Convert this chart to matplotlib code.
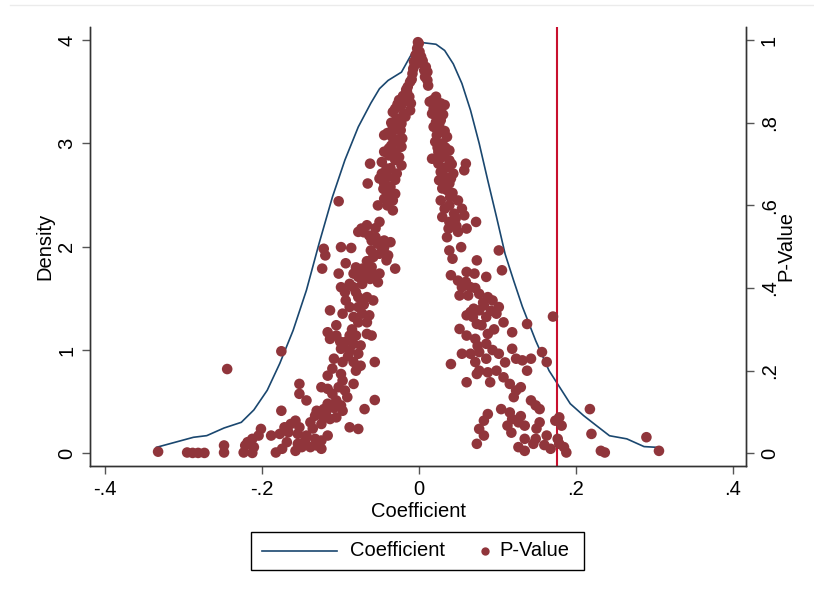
import matplotlib as mpl
import matplotlib.pyplot as plt
from matplotlib.lines import Line2D
from matplotlib.patches import Rectangle

mpl.rcParams['font.family'] = ['Liberation Sans', 'DejaVu Sans']
mpl.rcParams['font.size'] = 14.5

# kernel density of the coefficients
curve_x = [-0.334, -0.287, -0.270, -0.248, -0.226, -0.210, -0.193, -0.177, -0.160, -0.143,
           -0.127, -0.110, -0.094, -0.077, -0.061, -0.050, -0.039, -0.022, -0.011, 0.000,
           0.011, 0.022, 0.033, 0.044, 0.055, 0.066, 0.077, 0.088, 0.099, 0.110,
           0.121, 0.132, 0.149, 0.166, 0.177, 0.193, 0.210, 0.226, 0.243, 0.265,
           0.287, 0.303]
curve_y = [0.058, 0.155, 0.171, 0.245, 0.30, 0.42, 0.61, 0.87, 1.19, 1.58,
           2.03, 2.48, 2.84, 3.16, 3.39, 3.53, 3.61, 3.69, 3.84, 3.98,
           3.97, 3.96, 3.90, 3.77, 3.58, 3.32, 3.00, 2.64, 2.29, 1.93,
           1.67, 1.42, 1.09, 0.80, 0.67, 0.48, 0.365, 0.27, 0.17, 0.14,
           0.065, 0.058]

# coefficient / p-value pairs
coef = [
    # left branch near the peak
    -0.001, 0.000, -0.002, 0.001, -0.004, 0.003, -0.006, 0.004, -0.007, 0.007,
    0.011, -0.008, 0.011, -0.011, -0.014, 0.008, -0.015, -0.012, -0.010, -0.019,
    -0.025, -0.022, -0.030, -0.033, -0.019, -0.011, -0.025, -0.029, -0.022, -0.033,
    -0.023, -0.044, -0.034, -0.021, -0.030, -0.022, -0.038, -0.030, -0.038, -0.025,
    -0.022, -0.062, -0.041, -0.047, -0.039, -0.030, -0.044, -0.036, -0.041, -0.030,
    -0.044, -0.033, -0.065, -0.102, -0.028, -0.033,
    -0.005, -0.009, -0.016, -0.020, -0.027, -0.017, -0.035, -0.028, -0.040, -0.026,
    -0.035, -0.044, -0.030, -0.047, -0.036, -0.050, -0.045, -0.038, -0.052, -0.040,
    # right branch upper
    0.014, 0.022, 0.028, 0.033, 0.019, 0.017, 0.023, 0.022, 0.028, 0.019,
    0.028, 0.023, 0.036, 0.021, 0.030, 0.039, 0.025, 0.017, 0.032, 0.039,
    0.025, 0.036, 0.028, 0.044, 0.033, 0.026, 0.039, 0.030, 0.036, 0.028,
    0.050, 0.039, 0.033, 0.055, 0.058, 0.030, 0.047, 0.039, 0.073, 0.038,
    0.061, 0.050, 0.036, 0.054, 0.039, 0.043, 0.060, 0.058, 0.074, 0.102,
    0.106,
    0.005, 0.009, 0.012, 0.018, 0.025, 0.031, 0.026, 0.033, 0.024, 0.034,
    0.028, 0.042, 0.033, 0.030, 0.041, 0.034, 0.043, 0.040, 0.045, 0.048,
    # left branch middle
    -0.066, -0.073, -0.077, -0.050, -0.063, -0.055, -0.060, -0.044, -0.036, -0.052,
    -0.044, -0.061, -0.050, -0.039, -0.041, -0.030, -0.072, -0.066, -0.060, -0.055,
    -0.050, -0.062, -0.052, -0.072, -0.077, -0.083, -0.099, -0.094, -0.080, -0.077,
    -0.066, -0.058, -0.088, -0.077, -0.072, -0.063, -0.066, -0.077, -0.083, -0.113,
    -0.097, -0.116, -0.113, -0.105, -0.088, -0.080, -0.066, -0.060, -0.094, -0.083,
    -0.074, -0.099, -0.088, -0.077, -0.108, -0.097, -0.083, -0.074, -0.056, -0.080,
    -0.099, -0.116, -0.121, -0.119, -0.099, -0.086, -0.123, -0.102, -0.093, -0.083,
    -0.175, -0.244,
    -0.055, -0.070, -0.058, -0.045, -0.066, -0.080, -0.070, -0.088, -0.093, -0.070,
    -0.105, -0.085, -0.100, -0.090, -0.110,
    # left branch lower
    -0.152, -0.152, -0.143, -0.124, -0.116, -0.110, -0.105, -0.099, -0.097, -0.102,
    -0.094, -0.083, -0.091, -0.116, -0.121, -0.130, -0.132, -0.121, -0.113, -0.105,
    -0.097, -0.138, -0.124, -0.157, -0.163, -0.152, -0.171, -0.166, -0.154, -0.143,
    -0.132, -0.124, -0.116, -0.130, -0.124, -0.138, -0.149, -0.157, -0.154, -0.168,
    -0.174, -0.182, -0.188, -0.177, -0.201, -0.204, -0.212, -0.218, -0.210, -0.223,
    -0.212, -0.221, -0.175, -0.069, -0.056, -0.088, -0.077, -0.248, -0.248, -0.295,
    -0.288, -0.281, -0.273, -0.332,
    -0.135, -0.145, -0.118, -0.108,
    # right branch middle and lower
    0.041, 0.050, 0.061, 0.071, 0.086, 0.055, 0.066, 0.052, 0.063, 0.077,
    0.088, 0.094, 0.102, 0.083, 0.077, 0.086, 0.099, 0.108, 0.066, 0.061,
    0.069, 0.074, 0.088, 0.052, 0.061, 0.072, 0.086, 0.055, 0.066, 0.077,
    0.086, 0.072, 0.077, 0.088, 0.099, 0.108, 0.116, 0.124, 0.130, 0.121,
    0.102, 0.119, 0.124, 0.132, 0.143, 0.138, 0.157, 0.163, 0.119, 0.138,
    0.061, 0.091, 0.041, 0.074, 0.088, 0.083, 0.077, 0.074, 0.083, 0.105,
    0.116, 0.119, 0.113, 0.127, 0.135, 0.143, 0.149, 0.154, 0.154, 0.135,
    0.149, 0.146, 0.163, 0.127, 0.135, 0.168, 0.174, 0.179, 0.182, 0.177,
    0.179, 0.185, 0.188, 0.171, 0.218, 0.220, 0.232, 0.237, 0.290, 0.306,
    0.060, 0.072, 0.082, 0.092, 0.070, 0.080, 0.096, 0.075, 0.094, 0.110,
    0.118, 0.130, 0.150, 0.160,
]
pval = [
    0.995, 0.992, 0.980, 0.972, 0.964, 0.960, 0.948, 0.944, 0.931, 0.927,
    0.923, 0.919, 0.903, 0.899, 0.887, 0.911, 0.875, 0.863, 0.847, 0.851,
    0.855, 0.843, 0.834, 0.826, 0.822, 0.830, 0.810, 0.806, 0.798, 0.790,
    0.782, 0.770, 0.766, 0.762, 0.754, 0.742, 0.738, 0.729, 0.721, 0.717,
    0.697, 0.701, 0.689, 0.677, 0.669, 0.662, 0.653, 0.645, 0.633, 0.628,
    0.616, 0.588, 0.653, 0.610, 0.677, 0.612,
    0.940, 0.905, 0.880, 0.865, 0.845, 0.815, 0.800, 0.785, 0.775, 0.760,
    0.745, 0.730, 0.710, 0.705, 0.690, 0.665, 0.640, 0.620, 0.600, 0.600,
    0.851, 0.863, 0.847, 0.843, 0.834, 0.822, 0.814, 0.802, 0.806, 0.790,
    0.778, 0.770, 0.766, 0.754, 0.750, 0.733, 0.729, 0.713, 0.721, 0.709,
    0.701, 0.693, 0.681, 0.677, 0.669, 0.661, 0.653, 0.641, 0.637, 0.612,
    0.612, 0.600, 0.592, 0.592, 0.576, 0.572, 0.568, 0.560, 0.560, 0.544,
    0.544, 0.536, 0.523, 0.499, 0.491, 0.471, 0.701, 0.685, 0.467, 0.491,
    0.443,
    0.950, 0.935, 0.890, 0.855, 0.830, 0.820, 0.795, 0.780, 0.740, 0.740,
    0.715, 0.700, 0.690, 0.675, 0.665, 0.655, 0.630, 0.620, 0.580, 0.550,
    0.552, 0.544, 0.536, 0.560, 0.527, 0.523, 0.515, 0.515, 0.511, 0.507,
    0.499, 0.491, 0.483, 0.479, 0.467, 0.447, 0.447, 0.439, 0.451, 0.431,
    0.435, 0.422, 0.414, 0.410, 0.427, 0.402, 0.402, 0.390, 0.390, 0.378,
    0.378, 0.370, 0.354, 0.354, 0.338, 0.334, 0.317, 0.317, 0.330, 0.346,
    0.338, 0.293, 0.277, 0.285, 0.285, 0.285, 0.289, 0.285, 0.269, 0.265,
    0.261, 0.253, 0.249, 0.241, 0.229, 0.221, 0.221, 0.212, 0.221, 0.200,
    0.192, 0.188, 0.495, 0.479, 0.499, 0.497, 0.447, 0.435, 0.460, 0.435,
    0.247, 0.204,
    0.545, 0.535, 0.475, 0.490, 0.465, 0.450, 0.425, 0.410, 0.370, 0.360,
    0.310, 0.300, 0.270, 0.235, 0.205,
    0.168, 0.144, 0.128, 0.160, 0.156, 0.144, 0.128, 0.116, 0.176, 0.160,
    0.152, 0.168, 0.136, 0.120, 0.107, 0.103, 0.091, 0.087, 0.083, 0.087,
    0.103, 0.075, 0.071, 0.079, 0.071, 0.063, 0.063, 0.051, 0.047, 0.043,
    0.035, 0.031, 0.043, 0.019, 0.011, 0.015, 0.015, 0.006, 0.023, 0.027,
    0.011, 0.002, 0.043, 0.047, 0.059, 0.043, 0.035, 0.027, 0.015, 0.002,
    0.001, 0.019, 0.103, 0.107, 0.129, 0.063, 0.059, 0.019, 0.002, 0.002,
    0.001, 0.001, 0.001, 0.004,
    0.060, 0.030, 0.100, 0.110,
    0.431, 0.418, 0.439, 0.435, 0.427, 0.402, 0.402, 0.382, 0.382, 0.386,
    0.378, 0.370, 0.354, 0.358, 0.346, 0.330, 0.338, 0.317, 0.342, 0.334,
    0.330, 0.313, 0.289, 0.301, 0.285, 0.277, 0.265, 0.241, 0.241, 0.245,
    0.229, 0.221, 0.200, 0.196, 0.200, 0.184, 0.168, 0.152, 0.160, 0.136,
    0.241, 0.253, 0.229, 0.225, 0.229, 0.200, 0.245, 0.221, 0.293, 0.313,
    0.172, 0.172, 0.216, 0.192, 0.095, 0.079, 0.059, 0.023, 0.043, 0.107,
    0.099, 0.083, 0.067, 0.075, 0.067, 0.128, 0.116, 0.107, 0.075, 0.035,
    0.035, 0.023, 0.043, 0.015, 0.006, 0.011, 0.079, 0.087, 0.067, 0.035,
    0.023, 0.015, 0.002, 0.331, 0.107, 0.047, 0.006, 0.002, 0.039, 0.006,
    0.415, 0.400, 0.365, 0.345, 0.350, 0.310, 0.300, 0.260, 0.250, 0.220,
    0.050, 0.090, 0.060, 0.020,
]

threshold = 0.176

navy = '#1a476f'
maroon = '#90353b'
red = '#c8102e'

fig = plt.figure(figsize=(8.14, 5.96), dpi=100)
ax = fig.add_axes((0.1106, 0.2181, 0.8059, 0.7371))
ax2 = ax.twinx()

ax.plot(curve_x, curve_y, color=navy, lw=1.2)
ax2.scatter(coef, pval, s=58, color=maroon, edgecolors='none', zorder=3)
ax.axvline(threshold, color=red, lw=1.5)

ax.set_xlim(-0.4187, 0.4169)
ax.set_ylim(-0.123, 4.130)
ax2.set_ylim(-0.0307, 1.0325)

ax.set_xticks([-0.4, -0.2, 0, 0.2, 0.4])
ax.set_xticklabels(['-.4', '-.2', '0', '.2', '.4'])
ax.set_yticks([0, 1, 2, 3, 4])
ax.set_yticklabels(['0', '1', '2', '3', '4'], rotation=90, va='center')
ax2.set_yticks([0, 0.2, 0.4, 0.6, 0.8, 1])
ax2.set_yticklabels(['0', '.2', '.4', '.6', '.8', '1'], rotation=90, va='center')

for a in (ax, ax2):
    a.spines['top'].set_visible(False)
    for s in ('left', 'right', 'bottom'):
        a.spines[s].set_color('#333333')
        a.spines[s].set_linewidth(1.0)
    a.tick_params(length=6, width=1, color='#555555', labelsize=14.5, pad=4)

ax.set_xlabel('Coefficient', labelpad=2)
ax.set_ylabel('Density', labelpad=2)
ax2.set_ylabel('P-Value', labelpad=-2)

# legend box drawn in figure coordinates, Stata style
W, H = 814, 596
fig.add_artist(Rectangle((251 / W, 1 - 570 / H), 333 / W, 38 / H, transform=fig.transFigure,
                         facecolor='white', edgecolor='black', lw=1.0))
fig.add_artist(Line2D([262 / W, 337 / W], [1 - 551 / H] * 2, transform=fig.transFigure,
                      color=navy, lw=1.2))
fig.text(350 / W, 1 - 551 / H, 'Coefficient', va='center', ha='left')
fig.add_artist(Line2D([485 / W], [1 - 551 / H], transform=fig.transFigure, marker='o',
                      ls='none', color=maroon, markersize=6, markeredgewidth=0))
fig.text(499 / W, 1 - 551 / H, 'P-Value', va='center', ha='left')

fig.add_artist(Line2D([0.012, 1.0], [1 - 5 / H] * 2, color='#ebebeb', lw=1))

plt.savefig('out.png', dpi=100)
